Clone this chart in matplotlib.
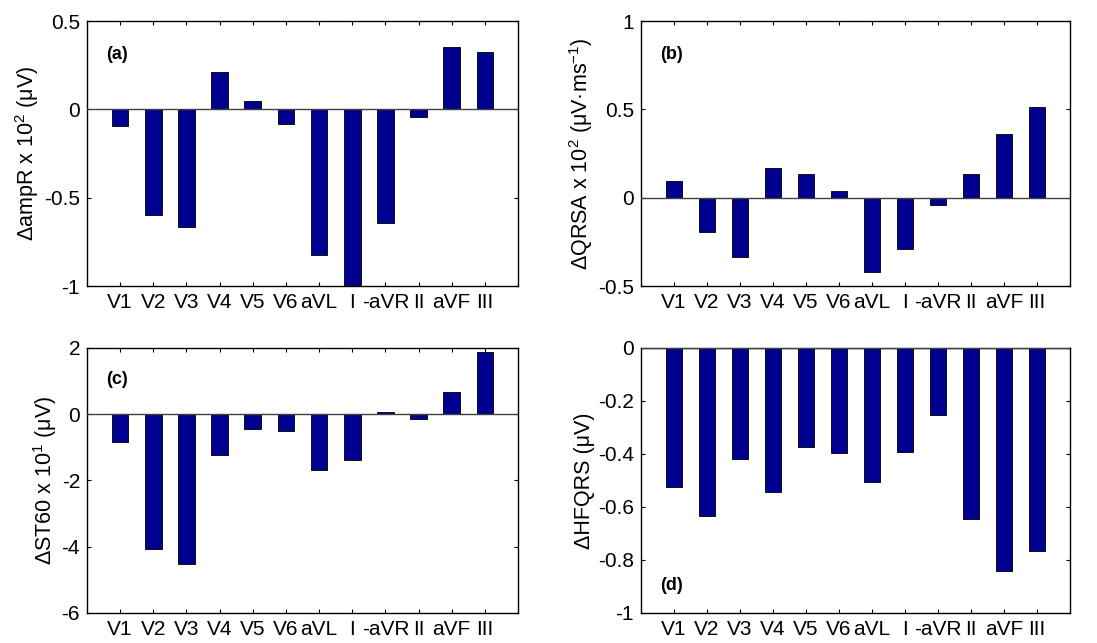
import matplotlib
matplotlib.use('Agg')
import matplotlib.pyplot as plt

plt.rcParams['font.family'] = ['Liberation Sans', 'DejaVu Sans']
plt.rcParams['mathtext.fontset'] = 'custom'
plt.rcParams['mathtext.rm'] = 'Liberation Sans'

leads = ['V1', 'V2', 'V3', 'V4', 'V5', 'V6', 'aVL', 'I', '-aVR', 'II', 'aVF', 'III']

amp_r = [-0.094, -0.598, -0.668, 0.211, 0.047, -0.085, -0.825, -0.996, -0.642, -0.042, 0.351, 0.325]
qrsa = [0.097, -0.197, -0.335, 0.167, 0.133, 0.037, -0.421, -0.292, -0.041, 0.133, 0.358, 0.512]
st60 = [-0.84, -4.06, -4.53, -1.22, -0.46, -0.51, -1.68, -1.39, 0.06, -0.13, 0.67, 1.88]
hfqrs = [-0.525, -0.634, -0.420, -0.542, -0.374, -0.397, -0.507, -0.391, -0.253, -0.647, -0.843, -0.767]

panels = [
    (amp_r, 'ΔampR x 10$^{2}$ (μV)', (-1, 0.5), [-1, -0.5, 0, 0.5], ['-1', '-0.5', '0', '0.5'], '(a)', 0.875),
    (qrsa, 'ΔQRSA x 10$^{2}$ (μV·ms$^{-1}$)', (-0.5, 1), [-0.5, 0, 0.5, 1], ['-0.5', '0', '0.5', '1'], '(b)', 0.875),
    (st60, 'ΔST60 x 10$^{1}$ (μV)', (-6, 2), [-6, -4, -2, 0, 2], ['-6', '-4', '-2', '0', '2'], '(c)', 0.88),
    (hfqrs, 'ΔHFQRS (μV)', (-1, 0), [-1, -0.8, -0.6, -0.4, -0.2, 0], ['-1', '-0.8', '-0.6', '-0.4', '-0.2', '0'], '(d)', 0.105),
]

positions = [
    [0.0793, 0.5552, 0.3929, 0.4121],
    [0.5843, 0.5552, 0.3911, 0.4121],
    [0.0793, 0.0467, 0.3929, 0.4121],
    [0.5843, 0.0467, 0.3911, 0.4121],
]

fig = plt.figure(figsize=(10.97, 6.43), dpi=100)
x = list(range(1, len(leads) + 1))

for (vals, ylab, ylim, yticks, ytl, tag, ty), pos in zip(panels, positions):
    ax = fig.add_axes(pos)
    ax.bar(x, vals, width=0.5, color='#000090', edgecolor='black', linewidth=0.6, zorder=2)
    ax.axhline(0, color='#404040', linewidth=1.0, zorder=3)
    ax.set_xlim(0, 13)
    ax.set_ylim(*ylim)
    ax.set_xticks(x)
    ax.set_xticklabels(leads, fontsize=15)
    ax.set_yticks(yticks)
    ax.set_yticklabels(ytl, fontsize=15)
    ax.tick_params(direction='in', length=3, width=0.8, top=True, right=True, pad=5)
    ax.set_ylabel(ylab, fontsize=15.5, labelpad=2)
    for s in ax.spines.values():
        s.set_linewidth(1.0)
    ax.text(0.044, ty, tag, transform=ax.transAxes, fontsize=13, fontweight='bold',
            va='center', ha='left')

fig.savefig('out.png', dpi=100)
